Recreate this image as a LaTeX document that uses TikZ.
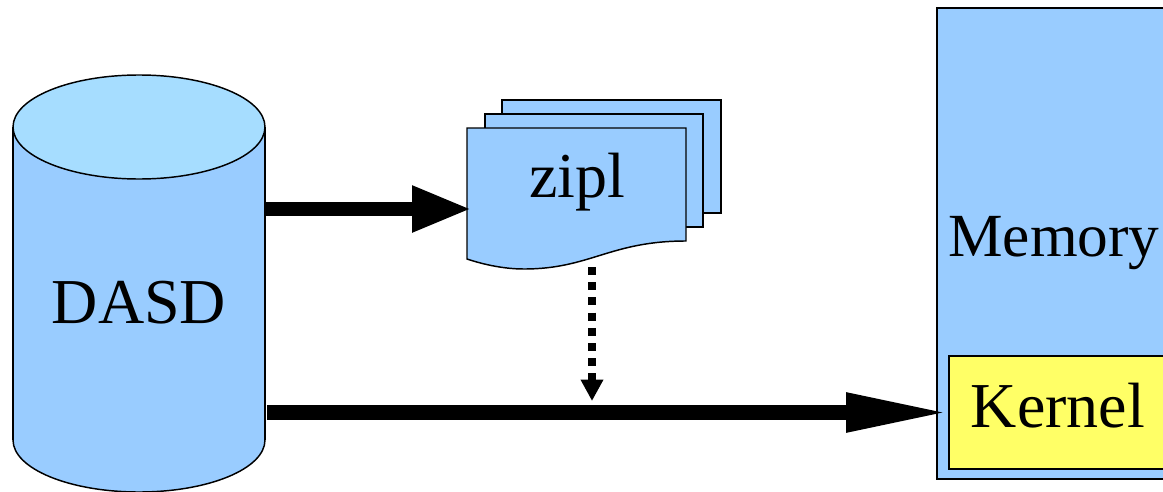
\documentclass[tikz,border=0pt]{standalone}
\usepackage{fontspec}
\setmainfont{Liberation Serif}
\usepackage[HTML]{xcolor}
\usetikzlibrary{positioning, arrows, arrows.meta}
\definecolor{boxblue}{HTML}{99CCFF}
\definecolor{lidblue}{HTML}{A6DDFF}
\definecolor{kernelyellow}{HTML}{FFFF66}

\begin{document}
\begin{tikzpicture}[x=0.75pt, y=-0.75pt,
    outline/.style={draw=black, line width=1.1pt},
    label text/.style={font=\fontsize{48}{50}\selectfont, inner sep=0pt},
    fat arrow/.style={line width=11pt},
    dotted arrow/.style={line width=5.6pt, dash pattern=on 6pt off 5.4pt, -{Triangle[length=16pt, width=16pt]}}]
\useasboundingbox (0,0) rectangle (1163,492);

% DASD cylinder
\draw[outline, fill=boxblue] (139,440) ellipse (126 and 52);
\fill[boxblue] (13,127) rectangle (265,440);
\draw[outline] (13,127) -- (13,440);
\draw[outline] (265,127) -- (265,440);
\draw[outline, fill=lidblue] (139,127) ellipse (126 and 52);
\node[label text] (dasd) at (139,303) {DASD};

% zipl sheets
\draw[outline, fill=boxblue] (502,100) rectangle (721,213);
\draw[outline, fill=boxblue] (485,114) rectangle (703,227);
\draw[outline, fill=boxblue] (467,128) -- (686,128) -- (686,241)
    .. controls (610,241) and (590,269) .. (524,269)
    .. controls (505,269) and (485,265) .. (467,259) -- cycle;
\node[label text] (zipl) at (577,182) {zipl};

% Memory and kernel
\draw[outline, fill=boxblue] (937,8) rectangle (1180,479);
\node[label text, font=\fontsize{46}{50}\selectfont] (memory) at (1054,243) {Memory};
\draw[outline, fill=kernelyellow] (949,356) rectangle (1180,469);
\node[label text] (kernel) at (1058,406) {Kernel};

% Arrow ends
\coordinate (disk top) at (265,209);
\coordinate (zipl in) at (472,209);
\coordinate (disk low) at (267,412.5);
\coordinate (kernel in) at (950,412.5);
\coordinate (zipl out) at (592,267);
\coordinate (load in) at (592,401);

% Arrows
\draw[fat arrow, -{Triangle[length=45pt, width=32pt]}] (disk top) -- (zipl in);
\draw[fat arrow, -{Triangle[length=78pt, width=27pt]}] (disk low) -- (kernel in);
\draw[dotted arrow] (zipl out) -- (load in);
\end{tikzpicture}
\end{document}
